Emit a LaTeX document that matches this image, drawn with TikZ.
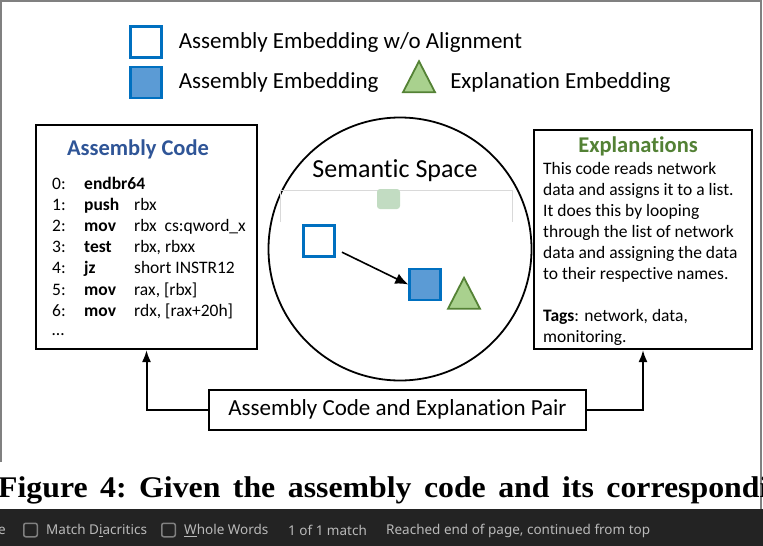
\documentclass[tikz,border=0pt]{standalone}
\usepackage{fontspec}
\setmainfont{Carlito}[Ligatures=NoCommon]
\newfontfamily\capfont{Liberation Serif}[FakeStretch=1.06]
\newfontfamily\barfont{Noto Sans}
\usetikzlibrary{arrows.meta,shapes.geometric,positioning}

\definecolor{embblue}{RGB}{0,112,192}
\definecolor{embfill}{RGB}{91,155,213}
\definecolor{explfill}{RGB}{169,209,142}
\definecolor{expldraw}{RGB}{84,130,53}
\definecolor{asmtitle}{RGB}{47,85,151}
\definecolor{expltitle}{RGB}{83,129,53}
\definecolor{faintgreen}{RGB}{194,220,194}
\definecolor{faintgray}{RGB}{217,217,217}
\definecolor{pagegray}{RGB}{128,128,128}
\definecolor{barbg}{RGB}{35,35,35}
\definecolor{bartext}{RGB}{185,185,185}

\newcommand\lgfont{\fontsize{23pt}{27pt}\selectfont}
\newcommand\txfont{\fontsize{17.5pt}{21pt}\selectfont}
\newcommand\ttlfont{\fontsize{22.5pt}{26pt}\selectfont\bfseries}

\begin{document}
\begin{tikzpicture}[x=1pt,y=-1pt,
    box/.style={shape=rectangle,draw=black,line width=2pt,inner sep=0pt},
    emptysq/.style={shape=rectangle,draw=embblue,line width=2.4pt,fill=white,
        minimum size=31pt,inner sep=0pt},
    fillsq/.style={emptysq,fill=embfill},
    expltri/.style={shape=isosceles triangle,isosceles triangle stretches,
        shape border rotate=90,draw=expldraw,line width=1.8pt,fill=explfill,
        minimum width=32pt,minimum height=31pt,inner sep=0pt},
    plain/.style={inner sep=0pt,anchor=base west},
    bartxt/.style={inner sep=0pt,text=bartext,font=\barfont\fontsize{13.5pt}{16pt}\selectfont},
    checkbox/.style={shape=rectangle,draw=pagegray,line width=1.5pt,rounded corners=2pt,
        minimum size=13.5pt,inner sep=0pt},
    >={Latex[length=12pt,width=9pt]}]
    \useasboundingbox (0,0) rectangle (763,546);
    \clip (0,0) rectangle (763,546);

    % page edges of the screenshot
    \draw[pagegray,line width=2pt] (1,462) -- (1,1) -- (761,1) -- (761,509);

    % legend
    \node (lgopen)[emptysq] at (146,42) {};
    \node (lgfill)[fillsq] at (146,82.5) {};
    \node (lgtri)[expltri] at (419,82.5) {};
    \node (lgopentext)[right=16pt of lgopen,inner sep=0pt,font=\lgfont]
        {Assembly Embedding w/o Alignment};
    \node (lgfilltext)[right=16pt of lgfill,inner sep=0pt,font=\lgfont]
        {Assembly Embedding};
    \node (lgtritext)[right=19pt of lgtri,inner sep=0pt,font=\lgfont]
        {Explanation Embedding};

    % assembly code
    \node (asmbox)[box,minimum width=221pt,minimum height=224pt] at (146.5,237) {};
    \node (asmtitle)[inner sep=0pt,text=asmtitle,font=\ttlfont] at (138,149) {Assembly Code};
    \foreach \num/\op/\arg [count=\i from 0] in {
            0/endbr64/{},
            1/push/rbx,
            2/mov/{rbx\hspace{8pt}cs:qword\_x},
            3/test/{rbx, rbxx},
            4/jz/short INSTR12,
            5/mov/{rax, [rbx]},
            6/mov/{rdx, [rax+20h]}} {
        \node (num\i)[plain,font=\txfont] at (52,189+21.2*\i) {\num:};
        \node (op\i)[plain,font=\txfont\bfseries] at (84,189+21.2*\i) {\op};
        \node (arg\i)[plain,font=\txfont] at (134,189+21.2*\i) {\arg};
    }
    \node (asmmore)[plain,font=\txfont] at (52,335) {\dots};

    % semantic space
    \node (space)[shape=circle,draw=black,line width=1.8pt,minimum size=263pt,inner sep=0pt]
        at (400,249) {};
    \node (spacetitle)[inner sep=0pt,font=\fontsize{26pt}{30pt}\selectfont] at (395,171)
        {Semantic Space};
    \draw[faintgray,line width=1pt] (280,222) |- (512,190) -- (512,222);
    \node (ghost)[shape=rectangle,fill=faintgreen,rounded corners=3pt,
        minimum width=23pt,minimum height=20pt,inner sep=0pt] at (388.5,199) {};
    \node (inopen)[emptysq] at (319,241) {};
    \node (infill)[fillsq] at (425,284.5) {};
    \node (intri)[expltri] at (464,299) {};
    \draw[->,line width=1.6pt,shorten <=7pt,>={Latex[length=13pt,width=11pt]}]
        (inopen) -- (infill.west);

    % explanations
    \node (explbox)[box,minimum width=218pt,minimum height=219pt] at (643,239.5) {};
    \node (expltitle)[inner sep=0pt,text=expltitle,font=\ttlfont] at (638,146) {Explanations};
    \foreach \ln [count=\i from 0] in {
            This code reads network,
            data and assigns it to a list.,
            It does this by looping,
            through the list of network,
            data and assigning the data,
            to their respective names.,
            {},
            {\textbf{Tags}: network, data,},
            monitoring.} {
        \node (expl\i)[plain,font=\txfont] at (543,174+21.1*\i) {\ln};
    }

    % pair and its connectors
    \node (pairbox)[box,minimum width=377pt,minimum height=40pt,font=\lgfont]
        at (397.5,409.5) {Assembly Code and Explanation Pair};
    \draw[->,line width=2pt] (pairbox.west) -| (asmbox.south);
    \draw[->,line width=2pt] (pairbox.east) -| (explbox.south);

    % caption
    \node (caption)[plain,font=\capfont\bfseries\fontsize{30pt}{34pt}\selectfont]
        at (-2,497) {\frenchspacing\spaceskip=12.5pt\relax Figure 4: Given the assembly code and its correspondi};

    % find bar
    \fill[barbg] (0,509) rectangle (763,546);
    \node (barcase)[bartxt,anchor=west] at (-2,530.5) {e};
    \node (boxdiac)[checkbox] at (30.5,530) {};
    \node (bardiac)[bartxt,anchor=west] at (46,530.5) {Match D\underline{i}acritics};
    \node (boxwords)[checkbox] at (168.5,530) {};
    \node (barwords)[bartxt,anchor=west] at (184,530.5) {\underline{W}hole Words};
    \node (barcount)[bartxt,anchor=west] at (288,530.5) {1 of 1 match};
    \node (barend)[bartxt,anchor=west] at (386,530.5) {Reached end of page, continued from top};
\end{tikzpicture}
\end{document}
